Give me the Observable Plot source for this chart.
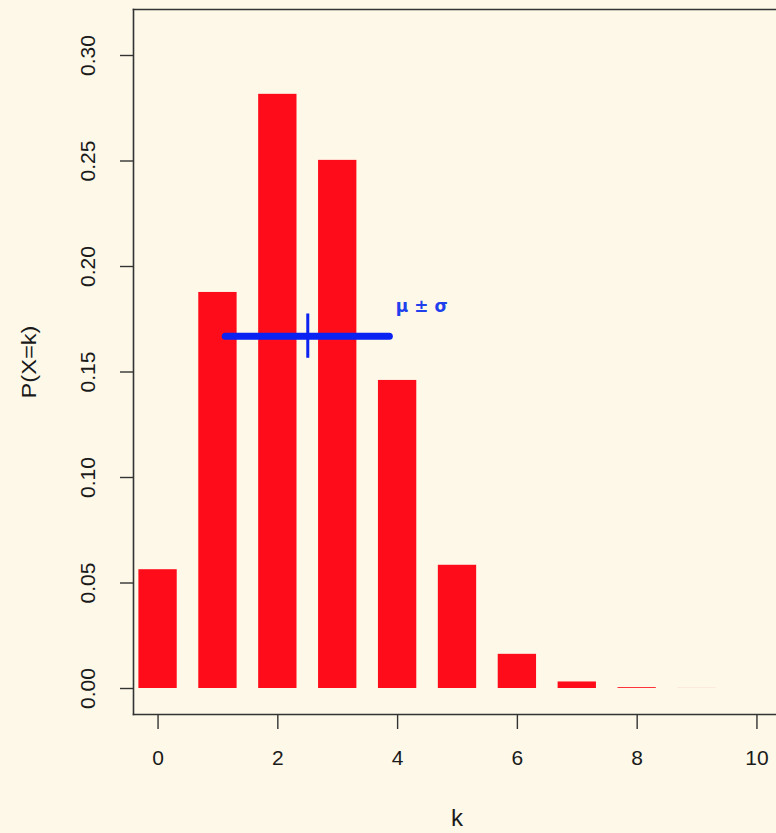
<!DOCTYPE html>
<html>
<head>
<meta charset="utf-8">
<script src="https://cdn.jsdelivr.net/npm/d3@7"></script>
<script src="https://cdn.jsdelivr.net/npm/@observablehq/plot@0.6"></script>
<style>
  html, body { margin: 0; padding: 0; background: #fdf8e8; }
  #chart svg { display: block; }
</style>
</head>
<body>
<div id="chart"></div>
<script>
// ---- data ----
const ks = [0, 1, 2, 3, 4, 5, 6, 7, 8, 9, 10];
const probs = [0.0563, 0.1877, 0.2816, 0.2503, 0.1460, 0.0584, 0.0162, 0.0031, 0.0004, 0.00003, 0.000001];
const xTicks = [0, 2, 4, 6, 8, 10];
const yTicks = [0.00, 0.05, 0.10, 0.15, 0.20, 0.25, 0.30];
const mu = 2.5;
const sigma = 1.37;
const muLineY = 0.167;
const muTickHalf = 0.0105;
const muLabel = "μ ± σ";
const xTitle = "k";
const yTitle = "P(X=k)";

// ---- style ----
const bg = "#fdf8e8";
const red = "#ff0c1a";
const blue = "#0a22f2";
const ink = "#1a1a1a";
const barHalf = 0.32;

const data = ks.map((k, i) => ({k, p: probs[i]}));

const chart = Plot.plot({
  width: 776,
  height: 833,
  marginLeft: 133,
  marginTop: 9,
  marginBottom: 119,
  marginRight: 0,
  style: {background: bg, fontFamily: "'Liberation Sans', Arial, sans-serif", color: ink},
  x: {domain: [-0.41, 10.41], range: [133, 781]},
  y: {domain: [-0.01232, 0.3218]},
  marks: [
    Plot.rect(data, {x1: d => d.k - barHalf, x2: d => d.k + barHalf, y1: 0, y2: "p", fill: red}),
    Plot.ruleY([muLineY], {x1: mu - sigma, x2: mu + sigma, stroke: blue, strokeWidth: 7, strokeLinecap: "round"}),
    Plot.ruleX([mu], {y1: muLineY - muTickHalf, y2: muLineY + muTickHalf, stroke: blue, strokeWidth: 3}),
    Plot.text([muLabel], {x: mu + sigma, y: muLineY, dx: 6, dy: -30, textAnchor: "start", lineAnchor: "middle", fill: "#2040ee", fontSize: 17, fontWeight: "bold", fontFamily: "'DejaVu Sans', sans-serif"}),
    Plot.frame({anchor: "left", stroke: "#333", strokeWidth: 1.6}),
    Plot.frame({anchor: "top", stroke: "#333", strokeWidth: 1.6}),
    Plot.frame({anchor: "bottom", stroke: "#333", strokeWidth: 1.6}),
    Plot.axisX({ticks: xTicks, tickSize: 15, tickPadding: 21, fontSize: 21, label: null, stroke: "#333", strokeWidth: 1.4, fill: ink}),
    Plot.axisY({ticks: yTicks, tickSize: 13, tickFormat: () => "", label: null, stroke: "#333", strokeWidth: 1.4}),
    Plot.text(yTicks, {y: d => d, text: d => d.toFixed(2), frameAnchor: "left", dx: -45, rotate: -90, textAnchor: "middle", lineAnchor: "middle", fontSize: 21, fill: ink}),
    Plot.text([yTitle], {frameAnchor: "left", dx: -104, rotate: -90, textAnchor: "middle", lineAnchor: "middle", fontSize: 20, fill: ink}),
    Plot.text([xTitle], {frameAnchor: "bottom", dx: 2, dy: 104, textAnchor: "middle", lineAnchor: "middle", fontSize: 24, fill: ink})
  ]
});
document.getElementById("chart").appendChild(chart);
// stretch the rotated y title along its length as in the reference
d3.select(chart).selectAll("text")
  .filter(function() { return this.textContent === yTitle; })
  .attr("textLength", 73)
  .attr("lengthAdjust", "spacingAndGlyphs");
</script>
</body>
</html>
